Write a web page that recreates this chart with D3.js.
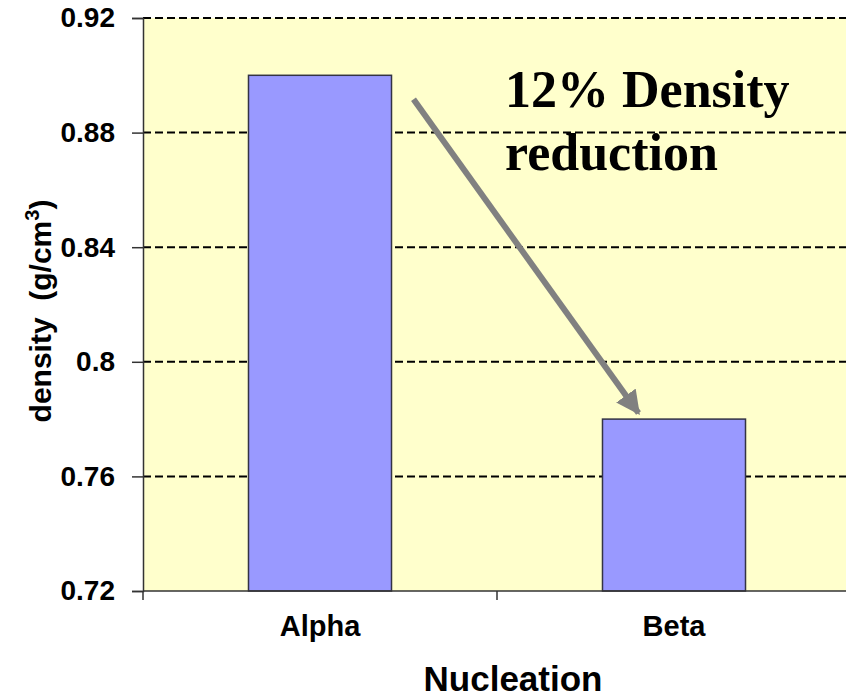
<!DOCTYPE html>
<html>
<head>
<meta charset="utf-8">
<script src="https://cdn.jsdelivr.net/npm/d3@7"></script>
<style>
  html, body { margin: 0; padding: 0; background: #ffffff; }
  svg { display: block; }
</style>
</head>
<body>
<svg id="chart" width="846" height="697"></svg>
<script>
// Density by nucleation type
const categories = ["Alpha", "Beta"];
const densities = [0.90, 0.78];
const yTicks = [0.72, 0.76, 0.8, 0.84, 0.88, 0.92];
const yTickLabels = ["0.72", "0.76", "0.8", "0.84", "0.88", "0.92"];
const annotationLines = ["12% Density", "reduction"];

const svg = d3.select("#chart");
const plot = { left: 143, right: 851, top: 18, bottom: 591 };

const x = d3.scaleBand()
  .domain(categories)
  .range([plot.left, plot.right])
  .paddingInner(0.596)
  .paddingOuter(0.298);

const y = d3.scaleLinear()
  .domain([0.72, 0.92])
  .range([plot.bottom, plot.top]);

// plot background
svg.append("rect")
  .attr("x", plot.left).attr("y", plot.top)
  .attr("width", plot.right - plot.left).attr("height", plot.bottom - plot.top)
  .attr("fill", "#ffffcc");

// dashed gridlines
svg.append("g")
  .selectAll("line")
  .data(yTicks.filter(t => t > 0.72))
  .join("line")
  .attr("x1", plot.left).attr("x2", plot.right)
  .attr("y1", d => y(d)).attr("y2", d => y(d))
  .attr("stroke", "#000")
  .attr("stroke-width", 2)
  .attr("stroke-dasharray", "8,4");

// bars
svg.append("g")
  .selectAll("rect")
  .data(categories.map((c, i) => ({ c, v: densities[i] })))
  .join("rect")
  .attr("x", d => x(d.c))
  .attr("y", d => y(d.v))
  .attr("width", x.bandwidth())
  .attr("height", d => y(0.72) - y(d.v))
  .attr("fill", "#9999ff")
  .attr("stroke", "#333344")
  .attr("stroke-width", 1.5);

// y axis
const yAxis = d3.axisLeft(y)
  .tickValues(yTicks)
  .tickFormat((d, i) => yTickLabels[i])
  .tickSize(11)
  .tickPadding(17);
const gy = svg.append("g")
  .attr("transform", `translate(${plot.left},0)`)
  .call(yAxis);
gy.select(".domain").attr("stroke", "#333").attr("stroke-width", 1.5);
gy.selectAll(".tick line").attr("stroke", "#333").attr("stroke-width", 1.5);
gy.selectAll(".tick text")
  .attr("font-family", "Liberation Sans, Arial, sans-serif")
  .attr("font-weight", "bold")
  .attr("font-size", 28)
  .attr("fill", "#000");

// x axis: ticks sit on the category boundaries
const gx = svg.append("g")
  .attr("transform", `translate(0,${plot.bottom})`);
gx.append("line")
  .attr("x1", plot.left).attr("x2", plot.right)
  .attr("stroke", "#333").attr("stroke-width", 1.5);
const boundaries = [plot.left, ...categories.map(c => x(c) + x.bandwidth() / 2 + x.step() / 2)];
gx.selectAll("line.bt")
  .data(boundaries)
  .join("line")
  .attr("class", "bt")
  .attr("x1", d => d).attr("x2", d => d)
  .attr("y1", 0).attr("y2", 9)
  .attr("stroke", "#333").attr("stroke-width", 1.5);
gx.selectAll("text")
  .data(categories)
  .join("text")
  .attr("x", d => x(d) + x.bandwidth() / 2)
  .attr("y", 45)
  .attr("text-anchor", "middle")
  .attr("font-family", "Liberation Sans, Arial, sans-serif")
  .attr("font-weight", "bold")
  .attr("font-size", 29)
  .text(d => d);

// axis titles
svg.append("text")
  .attr("x", 513).attr("y", 691)
  .attr("text-anchor", "middle")
  .attr("font-family", "Liberation Sans, Arial, sans-serif")
  .attr("font-weight", "bold")
  .attr("font-size", 35)
  .text("Nucleation");

const yt = svg.append("text")
  .attr("transform", "translate(51,311) rotate(-90)")
  .attr("text-anchor", "middle")
  .attr("font-family", "Liberation Sans, Arial, sans-serif")
  .attr("font-weight", "bold")
  .attr("font-size", 30)
  .style("white-space", "pre");
yt.append("tspan").text("density  (g/cm");
yt.append("tspan").attr("font-size", 20).attr("dy", -12).text("3");
yt.append("tspan").attr("dy", 12).text(")");

// reduction arrow from the Alpha bar towards the Beta bar
const defs = svg.append("defs");
defs.append("marker")
  .attr("id", "head")
  .attr("viewBox", "0 0 10 10")
  .attr("refX", 9).attr("refY", 5)
  .attr("markerWidth", 4).attr("markerHeight", 4)
  .attr("orient", "auto")
  .attr("markerUnits", "strokeWidth")
  .append("path")
  .attr("d", "M0,0 L10,5 L0,10 Z")
  .attr("fill", "#808080");

const arrowStart = [x("Alpha") + x.bandwidth() + 22, y(densities[0]) + 24];
const arrowEnd = [x("Beta") + 36, y(densities[1]) - 6];
svg.append("line")
  .attr("x1", arrowStart[0]).attr("y1", arrowStart[1])
  .attr("x2", arrowEnd[0]).attr("y2", arrowEnd[1])
  .attr("stroke", "#808080")
  .attr("stroke-width", 6)
  .attr("marker-end", "url(#head)");

// annotation text
svg.append("g")
  .selectAll("text")
  .data(annotationLines)
  .join("text")
  .attr("x", 505)
  .attr("y", (d, i) => 107 + i * 63)
  .attr("font-family", "Liberation Serif, Times New Roman, serif")
  .attr("font-weight", "bold")
  .attr("font-size", 52)
  .attr("fill", "#000")
  .text(d => d);
</script>
</body>
</html>
